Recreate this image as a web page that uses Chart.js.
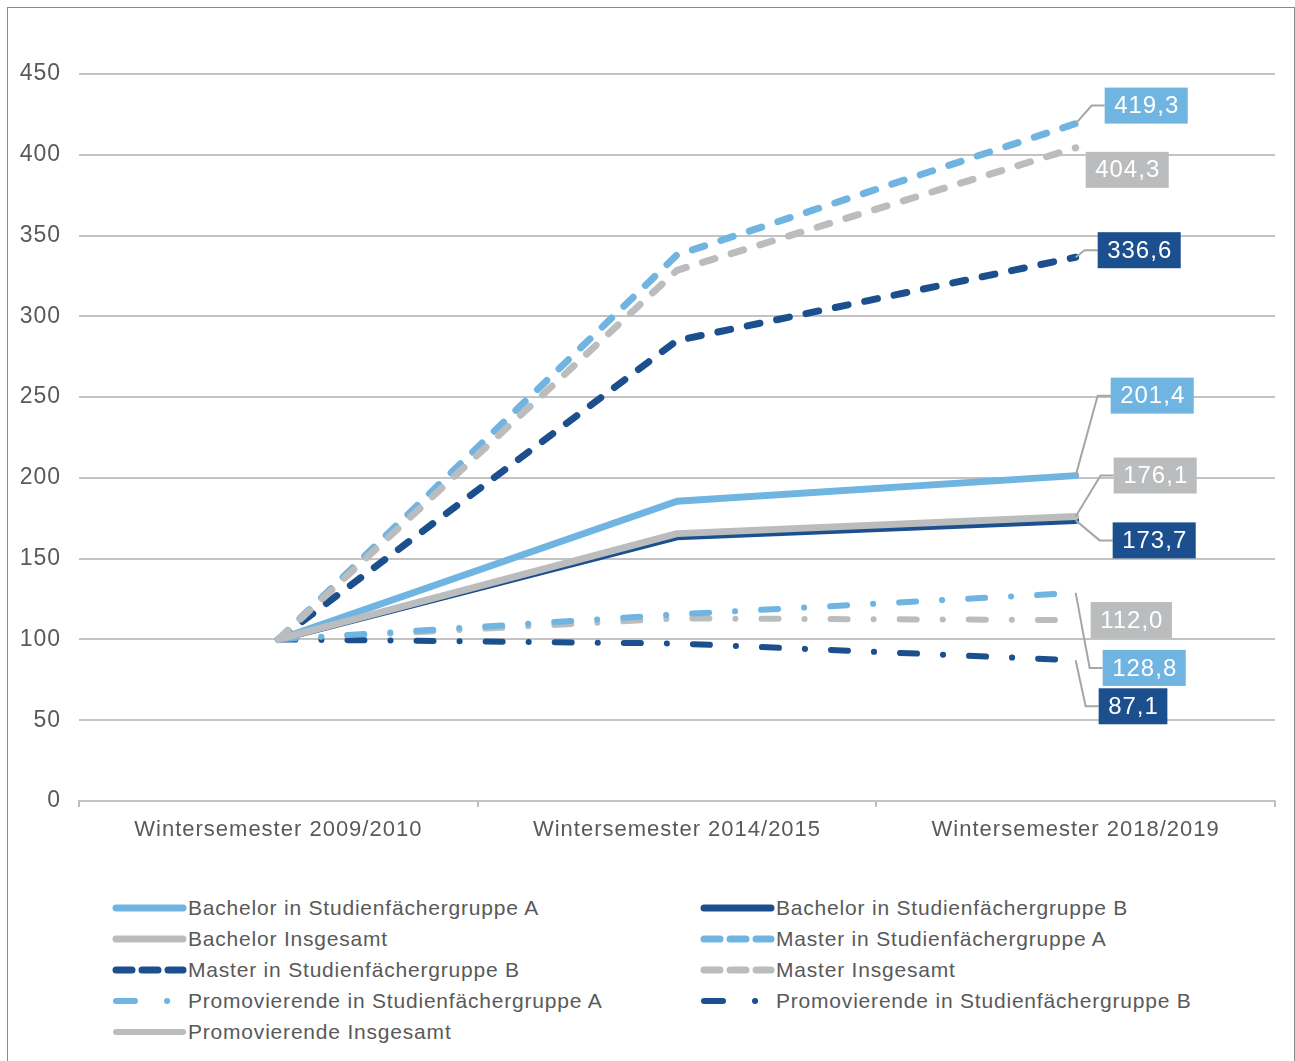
<!DOCTYPE html>
<html>
<head>
<meta charset="utf-8">
<script src="https://cdn.jsdelivr.net/npm/chart.js@4/dist/chart.umd.min.js"></script>
<style>
  body { margin: 0; background: #fff; font-family: "Liberation Sans", Arial, sans-serif; }
  #frame { position: absolute; left: 7px; top: 7px; width: 1286px; height: 1100px; border: 1px solid #8a8a8a; }
  #chart { position: absolute; left: 0; top: 0; }
  #legend { position: absolute; left: 112px; top: 892px; display: grid; grid-template-columns: 588px 520px; row-gap: 0; }
  .item { display: flex; align-items: center; height: 31px; color: #595959; font-size: 21px; letter-spacing: 0.8px; white-space: nowrap; }
  .item svg { margin-right: 1px; flex: none; }
</style>
</head>
<body>
<div id="frame"></div>
<canvas id="chart" width="1295" height="860"></canvas>
<div id="legend"></div>
<script>
// ── Data (index, Wintersemester 2009/2010 = 100) ─────────────
const categories = ['Wintersemester 2009/2010', 'Wintersemester 2014/2015', 'Wintersemester 2018/2019'];
const yTicks = [0, 50, 100, 150, 200, 250, 300, 350, 400, 450];

const bachelorA   = [100, 185.5, 201.4];
const bachelorB   = [100, 163.5, 173.7];
const bachelorAll = [100, 165.5, 176.1];
const masterA     = [100, 338.0, 419.3];
const masterB     = [100, 285.0, 336.6];
const masterAll   = [100, 328.5, 404.3];
const promoA      = [100, 115.5, 128.8];
const promoB      = [100, 97.5, 87.1];
const promoAll    = [100, 113.0, 112.0];

const LB = '#70b5e1', DB = '#1b4f8e', GR = '#babcbe';
const SOLID = [], DASH = [13, 17], DASHDOT = [17, 26, 0.1, 26];
const FONT = '"Liberation Sans", Arial, sans-serif';

// legend order (row-major, two columns)
const series = [
  { name: 'Bachelor in Studienfächergruppe A', data: bachelorA, color: LB, dash: SOLID, width: 7, order: 1 },
  { name: 'Bachelor in Studienfächergruppe B', data: bachelorB, color: DB, dash: SOLID, width: 7, order: 2 },
  { name: 'Bachelor Insgesamt', data: bachelorAll, color: GR, dash: SOLID, width: 7, order: 0 },
  { name: 'Master in Studienfächergruppe A', data: masterA, color: LB, dash: DASH, width: 7, order: 1 },
  { name: 'Master in Studienfächergruppe B', data: masterB, color: DB, dash: DASH, width: 7, order: 2 },
  { name: 'Master Insgesamt', data: masterAll, color: GR, dash: DASH, width: 7, order: 0 },
  { name: 'Promovierende in Studienfächergruppe A', data: promoA, color: LB, dash: DASHDOT, width: 6, order: 1 },
  { name: 'Promovierende in Studienfächergruppe B', data: promoB, color: DB, dash: DASHDOT, width: 6, order: 2 },
  { name: 'Promovierende Insgesamt', data: promoAll, color: GR, dash: DASHDOT, width: 6, order: 3, legendDash: 'solid' }
];

// end label boxes: offset of box left-middle from the last point, elbow = connector
const labelLayout = [
  { dx: 35, dy: -80, elbow: true },
  { dx: 37, dy: 20, elbow: true },
  { dx: 38, dy: -41, elbow: true },
  { dx: 29, dy: -18, elbow: true },
  { dx: 22, dy: -7, elbow: true },
  { dx: 10, dy: 22, elbow: false },
  { dx: 27, dy: 75, elbow: true },
  { dx: 23, dy: 46, elbow: true },
  { dx: 15, dy: 0, elbow: false }
];

const fmt = v => v.toFixed(1).replace('.', ',');

// wider tracking for the axis text, like the original
const tracking = {
  id: 'tracking',
  beforeDraw(chart) { chart.ctx.letterSpacing = '1px'; }
};

// ── End labels plugin ────────────────────────────────────────
const endLabels = {
  id: 'endLabels',
  afterDatasetsDraw(chart) {
    const ctx = chart.ctx;
    ctx.save();
    ctx.letterSpacing = '1px';
    ctx.font = '24px ' + FONT;
    ctx.textBaseline = 'middle';
    series.forEach((s, i) => {
      const meta = chart.getDatasetMeta(i);
      const pt = meta.data[meta.data.length - 1];
      const L = labelLayout[i];
      const text = fmt(s.data[s.data.length - 1]);
      const bx = pt.x + L.dx, by = pt.y + L.dy;
      const w = ctx.measureText(text).width + 18, h = 36;
      if (L.elbow) {
        ctx.strokeStyle = '#a6a6a6';
        ctx.lineWidth = 2;
        ctx.beginPath();
        ctx.moveTo(pt.x, pt.y);
        ctx.lineTo(bx - 13, by);
        ctx.lineTo(bx, by);
        ctx.stroke();
      }
      ctx.fillStyle = s.color;
      ctx.fillRect(bx, by - h / 2, w, h);
      ctx.fillStyle = '#fff';
      ctx.textAlign = 'center';
      ctx.fillText(text, bx + w / 2 + 0.5, by + 1);
    });
    ctx.restore();
  }
};

new Chart(document.getElementById('chart'), {
  type: 'line',
  data: {
    labels: categories,
    datasets: series.map(s => ({
      label: s.name,
      data: s.data,
      borderColor: s.color,
      backgroundColor: s.color,
      borderWidth: s.width,
      borderDash: s.dash,
      borderCapStyle: 'round',
      borderJoinStyle: 'round',
      pointRadius: 0,
      tension: 0,
      order: s.order
    }))
  },
  options: {
    responsive: false,
    animation: false,
    layout: { padding: { left: 0, right: 20, top: 74, bottom: 0 } },
    scales: {
      x: {
        offset: true,
        grid: { offset: true, drawOnChartArea: false, drawTicks: true, tickLength: 6, color: '#bfbfbf', lineWidth: 2 },
        border: { display: true, color: '#c3c3c3', width: 2 },
        ticks: { color: '#595959', font: { size: 22, family: FONT }, padding: 10, maxRotation: 0 },
        afterFit: s => { s.height = 59; }
      },
      y: {
        min: 0, max: 450,
        afterBuildTicks: s => { s.ticks = yTicks.map(v => ({ value: v })); },
        grid: { color: '#c3c3c3', lineWidth: 2, drawTicks: false },
        border: { display: false },
        ticks: { color: '#595959', font: { size: 23, family: FONT }, padding: 18 },
        afterFit: s => { s.width = 79; }
      }
    },
    plugins: {
      legend: { display: false },
      tooltip: { enabled: false }
    }
  },
  plugins: [tracking, endLabels]
});

// ── HTML legend ──────────────────────────────────────────────
const legendEl = document.getElementById('legend');
series.forEach(s => {
  const solid = s.dash.length === 0 || s.legendDash === 'solid';
  let da = '';
  if (!solid) da = s.dash === DASH ? '16 10' : '19 32 0.1 40';
  legendEl.insertAdjacentHTML('beforeend',
    `<div class="item"><svg width="75" height="12"><line x1="4" y1="6" x2="71" y2="6" stroke="${s.color}" stroke-width="${s.width}" stroke-linecap="round" ${da ? `stroke-dasharray="${da}"` : ''}/></svg>${s.name}</div>`);
});
</script>
</body>
</html>
